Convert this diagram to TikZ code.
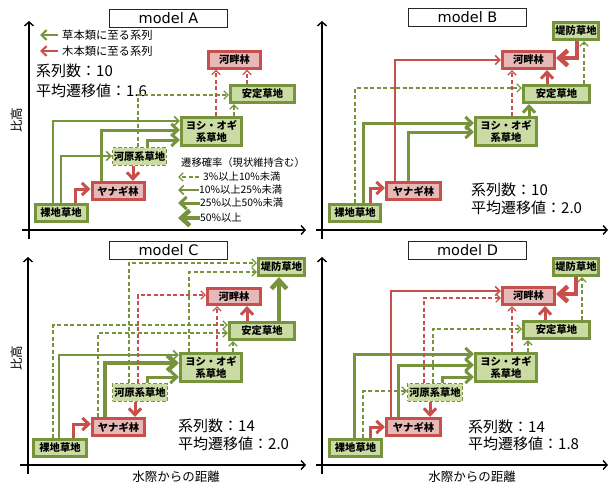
\documentclass[tikz,border=0pt]{standalone}
\usepackage{fontspec}
\setmainfont{Noto Sans CJK JP}
\newfontfamily\titlefont{DejaVu Sans}
\usetikzlibrary{arrows.meta}
\definecolor{gline}{HTML}{77933C}
\definecolor{gfill}{HTML}{CADBA4}
\definecolor{rline}{HTML}{C8504C}
\definecolor{rfill}{HTML}{E6B9B8}
\begin{document}
\begin{tikzpicture}[x=1pt,y=-1pt,
  nbox/.style={inner sep=0pt, align=center, font=\fontsize{10.3}{11.5}\selectfont\bfseries},
  gbox/.style={nbox, draw=gline, fill=gfill, line width=3pt},
  gdbox/.style={nbox, draw=gline, fill=gfill, line width=1.4pt, dash pattern=on 3.5pt off 2pt},
  rbox/.style={nbox, draw=rline, fill=rfill, line width=3pt},
  sm/.style={minimum width=52, minimum height=17},
  wd/.style={minimum width=64, minimum height=17},
  yo/.style={minimum width=60, minimum height=28},
  titlebox/.style={draw=black!85, line width=0.8pt, fill=white, inner sep=0pt, minimum width=118, minimum height=18, font=\titlefont\fontsize{14.5}{14.5}\selectfont},
  tipg/.style={-{Straight Barb[length=2.6pt 1.3, width=5.5pt 2.2]}},
  gdsh/.style={tipg, draw=gline, line width=1.3pt, dash pattern=on 4pt off 2.5pt},
  gthn/.style={tipg, draw=gline, line width=1.6pt},
  gthk/.style={tipg, draw=gline, line width=3pt},
  gvthk/.style={tipg, draw=gline, line width=4.5pt},
  rdsh/.style={tipg, draw=rline, line width=1.3pt, dash pattern=on 4pt off 2.5pt},
  rthn/.style={tipg, draw=rline, line width=1.6pt},
  rthk/.style={tipg, draw=rline, line width=3pt},
  rvthk/.style={tipg, draw=rline, line width=4.5pt},
  axis/.style={draw=black, line width=1.4pt, -{Straight Barb[length=4pt, width=9pt]}},
  stat/.style={anchor=west, inner sep=0pt, font=\fontsize{15}{15}\selectfont},
  lgtxt/.style={anchor=west, inner sep=0pt, font=\fontsize{10.3}{11}\selectfont},
  toptxt/.style={anchor=west, inner sep=0pt, font=\fontsize{11.3}{12}\selectfont},
  axlab/.style={inner sep=0pt, font=\fontsize{12.5}{13}\selectfont}
]
\useasboundingbox (0,0) rectangle (613,485);

% ---------------- axes ----------------
\coordinate (aY0) at (29,239); \coordinate (aY1) at (29,21);
\coordinate (aX0) at (22,230); \coordinate (aX1) at (306,230);
\coordinate (bY0) at (322,239); \coordinate (bY1) at (322,21);
\coordinate (bX0) at (316,230); \coordinate (bX1) at (608,230);
\coordinate (cY0) at (28,474); \coordinate (cY1) at (28,257);
\coordinate (cX0) at (20,465); \coordinate (cX1) at (306,465);
\coordinate (dY0) at (322,474); \coordinate (dY1) at (322,257);
\coordinate (dX0) at (316,465); \coordinate (dX1) at (608,465);
\draw[axis] (aY0) -- (aY1); \draw[axis] (aX0) -- (aX1);
\draw[axis] (bY0) -- (bY1); \draw[axis] (bX0) -- (bX1);
\draw[axis] (cY0) -- (cY1); \draw[axis] (cX0) -- (cX1);
\draw[axis] (dY0) -- (dY1); \draw[axis] (dX0) -- (dX1);

\node[axlab, rotate=90] (aYL) at (17,120) {比高};
\node[axlab, rotate=90] (cYL) at (17,358) {比高};
\node[axlab] (cXL) at (176,477) {水際からの距離};
\node[axlab] (dXL) at (472,477) {水際からの距離};

% ---------------- titles ----------------
\node[titlebox] (aT) at (168.5,18) {model A};
\node[titlebox] (bT) at (467.5,17) {model B};
\node[titlebox] (cT) at (168.5,250.5) {model C};
\node[titlebox] (dT) at (467.5,250.5) {model D};

% ---------------- stats ----------------
\node[stat] (aS1) at (36,71) {系列数：10};
\node[stat] (aS2) at (36,91) {平均遷移値：1.6};
\node[stat] (bS1) at (471,190) {系列数：10};
\node[stat] (bS2) at (471,208) {平均遷移値：2.0};
\node[stat] (cS1) at (178,426) {系列数：14};
\node[stat] (cS2) at (178,444) {平均遷移値：2.0};
\node[stat] (dS1) at (468,427) {系列数：14};
\node[stat] (dS2) at (468,444) {平均遷移値：1.8};

% ---------------- top legend ----------------
\coordinate (tg0) at (58,35); \coordinate (tg1) at (40,35);
\coordinate (tr0) at (58,51); \coordinate (tr1) at (40,51);
\draw[tipg, draw=gline, line width=2pt] (tg0) -- (tg1);
\draw[tipg, draw=rline, line width=2pt] (tr0) -- (tr1);
\node[toptxt] (tgT) at (62,35) {草本類に至る系列};
\node[toptxt] (trT) at (62,51) {木本類に至る系列};

% ---------------- panel A ----------------
\node[rbox, sm] (aHan) at (234.5,59.5) {河畔林};
\node[gbox, wd] (aAn) at (262.5,94) {安定草地};
\node[gbox, yo] (aYo) at (211.5,131.5) {ヨシ・オギ\\系草地};
\node[gdbox, minimum width=53.5, minimum height=17.5] (aKa) at (139.5,156.5) {河原系草地};
\node[rbox, sm] (aYa) at (118,191) {ヤナギ林};
\node[gbox, sm] (aRa) at (61,213) {裸地草地};

\draw[gthn] (aRa.north -| 53,0) |- (aYo.west |- 0,121);
\draw[gthn] (aRa.north -| 61,0) |- (aKa.west |- 0,156);
\draw[rthk] (aRa.north -| 75,0) |- (aYa.west |- 0,189);
\draw[gthk] (aYa.north -| 101,0) |- (aYo.west |- 0,130);
\draw[gthk] (aKa.north -| 147,0) |- (aYo.west |- 0,140);
\draw[gdsh] (aKa.north -| 138,0) |- (aAn.west |- 0,95);
\draw[rthk] (aKa.south -| 133,0) -- (aYa.north -| 133,0);
\draw[rdsh] (aYo.north -| 216,0) -- (aHan.south -| 216,0);
\draw[gdsh] (aYo.north -| 234,0) -- (aAn.south -| 234,0);
\draw[rdsh] (aAn.north -| 247,0) -- (aHan.south -| 247,0);

% legend of probabilities
\node[lgtxt] (lgH) at (181,163) {遷移確率（現状維持含む）};
\coordinate (l1s) at (199,177); \coordinate (l1e) at (178,177);
\coordinate (l2s) at (199,190); \coordinate (l2e) at (178,190);
\coordinate (l3s) at (200,203); \coordinate (l3e) at (178,203);
\coordinate (l4s) at (200,218); \coordinate (l4e) at (178,218);
\draw[gdsh] (l1s) -- (l1e);
\draw[gthn] (l2s) -- (l2e);
\draw[gthk] (l3s) -- (l3e);
\draw[gvthk] (l4s) -- (l4e);
\node[lgtxt] (l1t) at (203,177) {3\%以上10\%未満};
\node[lgtxt] (l2t) at (199,190) {10\%以上25\%未満};
\node[lgtxt] (l3t) at (200,203) {25\%以上50\%未満};
\node[lgtxt] (l4t) at (200,218) {50\%以上};

% ---------------- panel B ----------------
\node[gbox, minimum width=45, minimum height=17] (bTe) at (576,31) {堤防草地};
\node[rbox, sm] (bHan) at (528.5,60) {河畔林};
\node[gbox, minimum width=66, minimum height=17] (bAn) at (556.5,94) {安定草地};
\node[gbox, minimum width=61, minimum height=28] (bYo) at (506,131.5) {ヨシ・オギ\\系草地};
\node[rbox, minimum width=54, minimum height=17] (bYa) at (413.5,191) {ヤナギ林};
\node[gbox, minimum width=51, minimum height=17] (bRa) at (355,213) {裸地草地};

\draw[gdsh] (bRa.north -| 355,0) |- (bAn.west |- 0,88);
\draw[gthk] (bRa.north -| 363,0) |- (bYo.west |- 0,123);
\draw[rthk] (bRa.north -| 370,0) |- (bYa.west |- 0,188);
\draw[rthn] (bYa.north -| 395,0) |- (bHan.west |- 0,60);
\draw[gthk] (bYa.north -| 408,0) |- (bYo.west |- 0,132);
\draw[rdsh] (bYo.north -| 512,0) -- (bHan.south -| 512,0);
\draw[gthk] (bYo.north -| 529,0) -- (bAn.south -| 529,0);
\draw[rthk] (bAn.north -| 547,0) -- (bHan.south -| 547,0);
\draw[gdsh] (bAn.north -| 584,0) -- (bTe.south -| 584,0);
\draw[rvthk] (bTe.south -| 577,0) |- (bHan.east |- 0,58);

% ---------------- panel C ----------------
\node[gbox, minimum width=46, minimum height=17] (cTe) at (281.5,267) {堤防草地};
\node[rbox, minimum width=53, minimum height=16] (cHan) at (234,296.5) {河畔林};
\node[gbox, minimum width=65, minimum height=17] (cAn) at (262,331) {安定草地};
\node[gbox, minimum width=61, minimum height=28] (cYo) at (211,367.5) {ヨシ・オギ\\系草地};
\node[gdbox, minimum width=54.5, minimum height=17.5] (cKa) at (140,392.5) {河原系草地};
\node[rbox, sm] (cYa) at (118.5,427) {ヤナギ林};
\node[gbox, minimum width=53, minimum height=17] (cRa) at (60,448) {裸地草地};

\draw[gdsh] (cRa.north -| 53,0) |- (cAn.west |- 0,325);
\draw[gthn] (cRa.north -| 59,0) |- (cYo.west |- 0,355);
\draw[rthk] (cRa.north -| 73,0) |- (cYa.west |- 0,424);
\draw[gdsh] (cYa.north -| 98,0) |- (cAn.west |- 0,333);
\draw[gvthk] (cYa.north -| 105,0) |- (cYo.west |- 0,363);
\draw[gdsh] (cKa.north -| 129,0) |- (cTe.west |- 0,263);
\draw[rdsh] (cKa.north -| 138,0) |- (cHan.west |- 0,295);
\draw[gthk] (cKa.north -| 147,0) |- (cYo.west |- 0,377);
\draw[rthk] (cKa.south -| 135,0) -- (cYa.north -| 135,0);
\draw[gdsh] (cYo.north -| 189,0) |- (cTe.west |- 0,272);
\draw[rdsh] (cYo.north -| 217,0) -- (cHan.south -| 217,0);
\draw[gdsh] (cYo.north -| 233,0) -- (cAn.south -| 233,0);
\draw[rthk] (cAn.north -| 247,0) -- (cHan.south -| 247,0);
\draw[gvthk] (cAn.north -| 279,0) -- (cTe.south -| 279,0);

% ---------------- panel D ----------------
\node[gbox, minimum width=45, minimum height=17] (dTe) at (576,267) {堤防草地};
\node[rbox, sm] (dHan) at (528.5,296) {河畔林};
\node[gbox, minimum width=66, minimum height=17] (dAn) at (556.5,330) {安定草地};
\node[gbox, minimum width=61, minimum height=28] (dYo) at (506,367.5) {ヨシ・オギ\\系草地};
\node[gdbox, minimum width=54.5, minimum height=17.5] (dKa) at (435,392.5) {河原系草地};
\node[rbox, minimum width=54, minimum height=17] (dYa) at (413.5,427) {ヤナギ林};
\node[gbox, sm] (dRa) at (355.5,448) {裸地草地};

\draw[gthk] (dRa.north -| 354,0) |- (dYo.west |- 0,354);
\draw[gdsh] (dRa.north -| 363,0) |- (dKa.west |- 0,391);
\draw[rthk] (dRa.north -| 370,0) |- (dYa.west |- 0,427);
\draw[rthn] (dYa.north -| 391,0) |- (dHan.west |- 0,291);
\draw[gthk] (dYa.north -| 398,0) |- (dYo.west |- 0,365);
\draw[rdsh] (dKa.north -| 424,0) |- (dHan.west |- 0,298);
\draw[gdsh] (dKa.north -| 433,0) |- (dAn.west |- 0,329);
\draw[gthk] (dKa.north -| 442,0) |- (dYo.west |- 0,377);
\draw[rthk] (dKa.south -| 430,0) -- (dYa.north -| 430,0);
\draw[rdsh] (dYo.north -| 512,0) -- (dHan.south -| 512,0);
\draw[gdsh] (dYo.north -| 528,0) -- (dAn.south -| 528,0);
\draw[rthk] (dAn.north -| 545,0) -- (dHan.south -| 545,0);
\draw[gdsh] (dAn.north -| 582,0) -- (dTe.south -| 582,0);
\draw[rvthk] (dTe.south -| 576,0) |- (dHan.east |- 0,294);
\end{tikzpicture}
\end{document}
